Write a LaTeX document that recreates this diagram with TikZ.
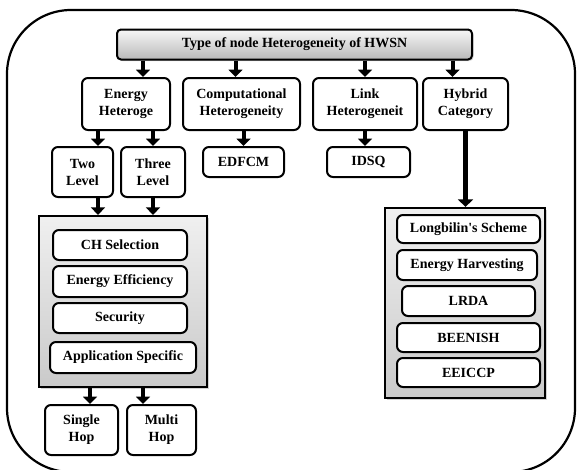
\documentclass[tikz,border=0pt]{standalone}
\usepackage{fontspec}
\setmainfont{Liberation Serif}
\usepackage{tikz}
\usetikzlibrary{arrows.meta,shadows}
\def\hwsnfont{\fontsize{14}{17}\selectfont\bfseries}

\begin{document}
\begin{tikzpicture}[x=1pt,y=-1pt,
  box/.style={draw=black, line width=2pt, rounded corners=6pt, fill=white, align=center, font=\hwsnfont, inner sep=0pt},
  greybox/.style={draw=black, line width=2.2pt, top color=gray!12, bottom color=gray!42, drop shadow={opacity=0.35, shadow xshift=1.5pt, shadow yshift=-1.5pt}},
  fat/.style={line width=4pt, -{Triangle[width=14pt,length=7.5pt]}}]
\useasboundingbox (0,0) rectangle (577,469);
\draw[line width=2.2pt, rounded corners=64pt] (7,10) rectangle (575,472);
% top level
\node (title) at (294.5,44.5) [box, rounded corners=4pt, minimum width=355pt, minimum height=30pt, top color=gray!6, bottom color=gray!55, drop shadow={opacity=0.35, shadow xshift=1.5pt, shadow yshift=-1.5pt}] {Type of node Heterogeneity of HWSN};
\node (energy) at (126,104) [box, minimum width=88pt, minimum height=52pt] {Energy\\Heteroge};
\node (comp) at (241.5,104) [box, minimum width=117pt, minimum height=52pt] {Computational\\Heterogeneity};
\node (link) at (365,104) [box, minimum width=104pt, minimum height=52pt] {Link\\Heterogeneit};
\node (hybrid) at (465.5,104) [box, minimum width=85pt, minimum height=52pt] {Hybrid\\Category};
\draw[fat] ([xshift=17]energy.north |- title.south) -- ([xshift=17]energy.north);
\draw[fat] ([xshift=-6]comp.north |- title.south) -- ([xshift=-6]comp.north);
\draw[fat] (link.north |- title.south) -- (link.north);
\draw[fat] ([xshift=-13]hybrid.north |- title.south) -- ([xshift=-13]hybrid.north);
% energy branch
\node (two) at (82.5,172) [box, minimum width=61pt, minimum height=50pt] {Two\\Level};
\node (three) at (153,172) [box, minimum width=64pt, minimum height=50pt] {Three\\Level};
\draw[fat] ([xshift=15.5]two.north |- energy.south) -- ([xshift=15.5]two.north);
\draw[fat] (three.north |- energy.south) -- (three.north);
\node (leftgroup) at (123,301.5) [greybox, minimum width=168pt, minimum height=171pt] {};
\node (chsel) at (120,245) [box, minimum width=134pt, minimum height=30pt] {CH Selection};
\node (effic) at (120,281.5) [box, minimum width=134pt, minimum height=31pt] {Energy Efficiency};
\node (secur) at (120,318) [box, minimum width=134pt, minimum height=30pt] {Security};
\node (appl) at (123,357.5) [box, minimum width=146pt, minimum height=31pt] {Application Specific};
\draw[fat] ([xshift=15.5]two.south) -- ([xshift=15.5]two.south |- leftgroup.north);
\draw[fat] (three.south) -- (three.south |- leftgroup.north);
\node (single) at (81.5,430) [box, minimum width=73pt, minimum height=50pt] {Single\\Hop};
\node (multi) at (161.5,430) [box, minimum width=69pt, minimum height=50pt] {Multi\\Hop};
\draw[fat] ([xshift=8.5]single.north |- leftgroup.south) -- ([xshift=8.5]single.north);
\draw[fat] ([xshift=-18.5]multi.north |- leftgroup.south) -- ([xshift=-18.5]multi.north);
% computational and link
\node (edfcm) at (243.5,162) [box, minimum width=81pt, minimum height=30pt] {EDFCM};
\node (idsq) at (368.5,162) [box, minimum width=83pt, minimum height=30pt] {IDSQ};
\draw[fat] (edfcm.north |- comp.south) -- (edfcm.north);
\draw[fat] ([xshift=-3.5]idsq.north |- link.south) -- ([xshift=-3.5]idsq.north);
% hybrid branch
\node (rightgroup) at (465,303) [greybox, minimum width=160pt, minimum height=190pt] {};
\node (longb) at (468.5,229) [box, minimum width=143pt, minimum height=28pt] {Longbilin\textquotesingle s Scheme};
\node (harv) at (467,265) [box, minimum width=140pt, minimum height=30pt] {Energy Harvesting};
\node (lrda) at (468.5,301) [box, minimum width=133pt, minimum height=30pt] {LRDA};
\node (beenish) at (468.5,337.5) [box, minimum width=143pt, minimum height=29pt] {BEENISH};
\node (eeiccp) at (468.5,372.5) [box, minimum width=143pt, minimum height=29pt] {EEICCP};
\draw[line width=5pt, -{Triangle[width=15pt,length=7.5pt]}] (hybrid.south) -- (hybrid.south |- rightgroup.north);
\end{tikzpicture}
\end{document}
